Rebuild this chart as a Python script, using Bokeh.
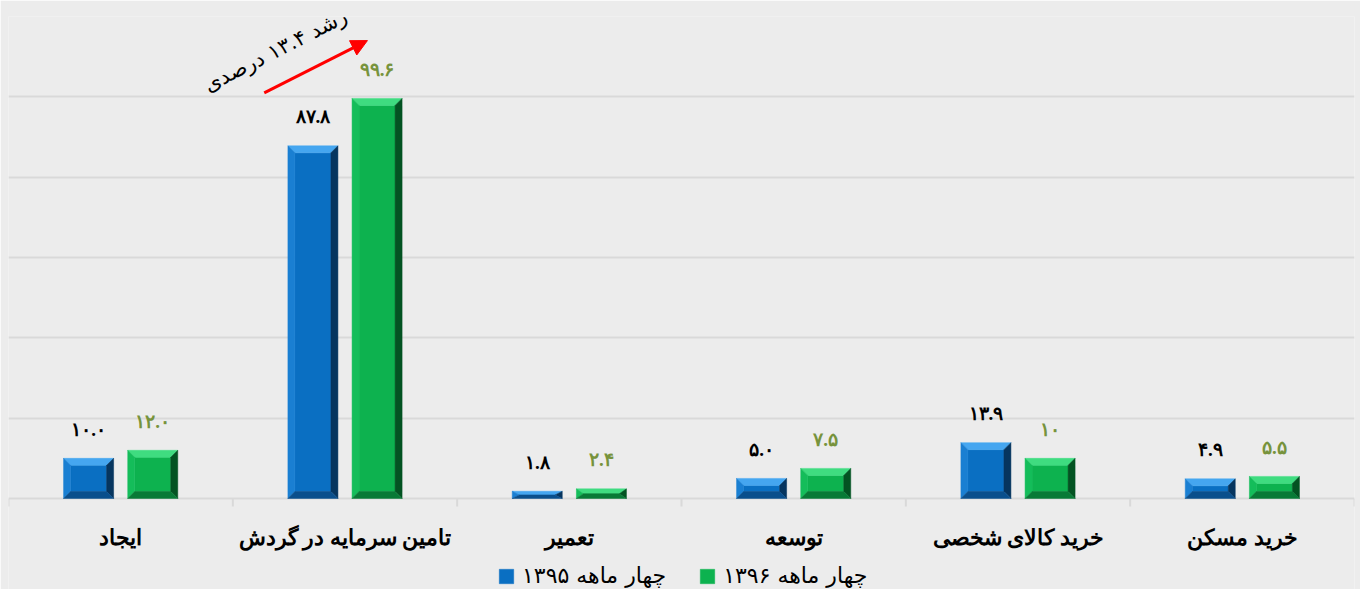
from bokeh.plotting import figure
from bokeh.models import (ColumnDataSource, Range1d, FixedTicker, Legend, LegendItem,
                          LabelSet, Label, Arrow, NormalHead)
from bokeh.embed import file_html
from bokeh.resources import INLINE

# ---- data ----
categories = ["ایجاد", "تامین سرمایه در گردش", "تعمیر", "توسعه", "خرید کالای شخصی", "خرید مسکن"]
series_names = ["چهار ماهه ۱۳۹۵", "چهار ماهه ۱۳۹۶"]
values_1395 = [10.0, 87.8, 1.8, 5.0, 13.9, 4.9]
values_1396 = [12.0, 99.6, 2.4, 7.5, 10.0, 5.5]
labels_1395 = ["۱۰.۰", "۸۷.۸", "۱.۸", "۵.۰", "۱۳.۹", "۴.۹"]
labels_1396 = ["۱۲.۰", "۹۹.۶", "۲.۴", "۷.۵", "۱۰", "۵.۵"]
grid_ticks = [0, 20, 40, 60, 80, 100, 120]
growth_text = "رشد ۱۳.۴ درصدی"
arrow_from = (1.14, 101.0)
arrow_to = (1.60, 114.0)
growth_label_pos = (1.19, 111.5)

FONT = "DejaVu Sans"
BG = "#ececec"
GRID = "#d9d9d9"

# ---- geometry of the frame ----
W, H = 1360, 589
LEFT, RIGHT, TOP = 8, 6, 16
Y_MAX = 120.0
BASE_PX = 498                      # baseline position from top
px_per_y = (BASE_PX - TOP) / Y_MAX
y_min = -(H - BASE_PX) / px_per_y
n = len(categories)
px_per_x = (W - LEFT - RIGHT) / n

offset = 0.143
bar_w = 0.223
centers = [i + 0.5 for i in range(n)]
bounds = list(range(n + 1))

# palettes for bevelled bars: face, top, left, right, bottom
blue_shades = ["#0a6fc2", "#45a6f0", "#1a7fd2", "#06355f", "#0a4f8c"]
green_shades = ["#0db24f", "#3fdc80", "#14bd5a", "#035322", "#087a36"]


def bevel_source(xcs, tops, shades, bevel_px=7):
    xs, ys, colors = [], [], []
    bx = bevel_px / px_per_x
    for xc, t in zip(xcs, tops):
        x0, x1 = xc - bar_w / 2, xc + bar_w / 2
        y0, y1 = 0.0, t
        by = min(bevel_px, t * px_per_y / 2) / px_per_y
        xi0, xi1, yi0, yi1 = x0 + bx, x1 - bx, y0 + by, y1 - by
        facets = [
            ([xi0, xi1, xi1, xi0], [yi0, yi0, yi1, yi1]),          # face
            ([x0, x1, xi1, xi0], [y1, y1, yi1, yi1]),              # top
            ([x0, x0, xi0, xi0], [y0, y1, yi1, yi0]),              # left
            ([x1, x1, xi1, xi1], [y0, y1, yi1, yi0]),              # right
            ([x0, x1, xi1, xi0], [y0, y0, yi0, yi0]),              # bottom
        ]
        for (fx, fy), c in zip(facets, shades):
            xs.append(fx)
            ys.append(fy)
            colors.append(c)
    return ColumnDataSource(dict(xs=xs, ys=ys, color=colors))


x1395 = [c - offset for c in centers]
x1396 = [c + offset for c in centers]
src1 = ColumnDataSource(dict(x=x1395, top=values_1395, lab=labels_1395))
src2 = ColumnDataSource(dict(x=x1396, top=values_1396, lab=labels_1396))
cat_src = ColumnDataSource(dict(x=centers, y=[0] * n, name=categories))
tick_len = 8 / px_per_y
tick_src = ColumnDataSource(dict(x0=bounds, y0=[0] * (n + 1), x1=bounds, y1=[-tick_len] * (n + 1)))

p = figure(width=W, height=H, output_backend="svg", toolbar_location=None,
           x_range=Range1d(0, n), y_range=Range1d(y_min, Y_MAX),
           x_axis_location=None, y_axis_location=None,
           min_border_left=LEFT, min_border_right=RIGHT, min_border_top=TOP, min_border_bottom=0)
p.background_fill_color = BG
p.border_fill_color = BG
p.outline_line_color = None

p.xgrid.visible = False
p.ygrid.ticker = FixedTicker(ticks=grid_ticks)
p.ygrid.grid_line_color = GRID
p.ygrid.grid_line_width = 2

p.segment(x0="x0", y0="y0", x1="x1", y1="y1", source=tick_src, line_color=GRID, line_width=2)

r1 = p.patches(xs="xs", ys="ys", source=bevel_source(x1395, values_1395, blue_shades),
               fill_color="color", line_color="color", line_width=0.5)
r2 = p.patches(xs="xs", ys="ys", source=bevel_source(x1396, values_1396, green_shades),
               fill_color="color", line_color="color", line_width=0.5)

# category labels
p.add_layout(LabelSet(x="x", y="y", text="name", source=cat_src, text_align="center",
                      text_baseline="middle", y_offset=-39, text_font=FONT, text_font_style="bold",
                      text_font_size="22px", text_color="#000000"))

p.add_layout(LabelSet(x="x", y="top", text="lab", source=src1, text_align="center",
                      text_baseline="middle", y_offset=29, text_font=FONT, text_font_style="bold",
                      text_font_size="19px", text_color="#000000"))
p.add_layout(LabelSet(x="x", y="top", text="lab", source=src2, text_align="center",
                      text_baseline="middle", y_offset=29, text_font=FONT, text_font_style="bold",
                      text_font_size="19px", text_color="#77933c"))

p.add_layout(Arrow(end=NormalHead(size=16, fill_color="#ff0000", line_color="#ff0000"),
                   x_start=arrow_from[0], y_start=arrow_from[1], x_end=arrow_to[0], y_end=arrow_to[1],
                   line_color="#ff0000", line_width=3))
p.add_layout(Label(x=growth_label_pos[0], y=growth_label_pos[1], text=growth_text, angle=0.47,
                   text_align="center", text_baseline="middle", text_font=FONT,
                   text_font_size="21px", text_color="#000000"))

legend = Legend(items=[LegendItem(label=series_names[0], renderers=[r1], index=0),
                       LegendItem(label=series_names[1], renderers=[r2], index=0)],
                orientation="horizontal", location=(489, 1),
                background_fill_alpha=0, border_line_color=None,
                label_text_font=FONT, label_text_font_size="22px", label_text_color="#000000",
                glyph_width=18, glyph_height=18, label_standoff=7, spacing=32,
                padding=1, margin=0, label_height=20)
p.add_layout(legend, "center")

open("out.html", "w").write(file_html(p, INLINE))
